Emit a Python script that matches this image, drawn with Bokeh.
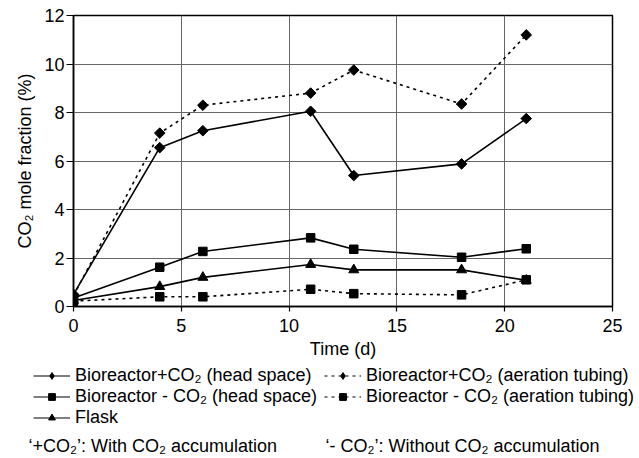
from bokeh.plotting import figure
from bokeh.layouts import column
from bokeh.models import Legend, LegendItem, Label, FixedTicker, Range1d
from bokeh.embed import file_html
from bokeh.resources import INLINE

# ---- data ----
time_d = [0, 4, 6, 11, 13, 18, 21]
hs_plus = [0.5, 6.55, 7.25, 8.05, 5.4, 5.88, 7.75]      # Bioreactor+CO2 (head space)
at_plus = [0.45, 7.15, 8.3, 8.8, 9.75, 8.35, 11.2]      # Bioreactor+CO2 (aeration tubing)
hs_minus = [0.35, 1.62, 2.27, 2.83, 2.36, 2.03, 2.38]   # Bioreactor - CO2 (head space)
at_minus = [0.22, 0.4, 0.4, 0.71, 0.53, 0.48, 1.1]     # Bioreactor - CO2 (aeration tubing)
flask = [0.25, 0.82, 1.2, 1.73, 1.51, 1.51, 1.08]      # Flask

x_ticks = [0, 5, 10, 15, 20, 25]
y_ticks = [0, 2, 4, 6, 8, 10, 12]

label_hs_plus = "Bioreactor+CO\u2082 (head space)"
label_hs_minus = "Bioreactor - CO\u2082 (head space)"
label_flask = "Flask"
label_at_plus = "Bioreactor+CO\u2082 (aeration tubing)"
label_at_minus = "Bioreactor - CO\u2082 (aeration tubing)"
note_plus = "\u2018+CO\u2082\u2019: With CO\u2082 accumulation"
note_minus = "\u2018- CO\u2082\u2019: Without CO\u2082 accumulation"

FONT = "Liberation Sans"
DOT = "3 4"
# marker styles in the chart
STYLES = {
    "hs_plus": dict(dash="solid", marker="square", angle=0.7854, size=7.5),
    "at_plus": dict(dash=DOT, marker="square", angle=0.7854, size=7.5),
    "hs_minus": dict(dash="solid", marker="square", angle=0.0, size=8.5),
    "flask": dict(dash="solid", marker="triangle", angle=0.0, size=10),
    "at_minus": dict(dash=DOT, marker="square", angle=0.0, size=8.5),
}
# marker styles for the legend samples
LEG_STYLES = {
    "hs_plus": dict(dash="solid", marker="diamond", angle=0.0, size=10),
    "at_plus": dict(dash=DOT, marker="diamond", angle=0.0, size=10),
    "hs_minus": dict(dash="solid", marker="square", angle=0.0, size=7),
    "flask": dict(dash="solid", marker="triangle", angle=0.0, size=8),
    "at_minus": dict(dash=DOT, marker="square", angle=0.0, size=7),
}

# ================= main chart =================
p = figure(width=639, height=364, output_backend="svg", toolbar_location=None,
           x_range=Range1d(0, 25), y_range=Range1d(0, 12),
           min_border_left=73, min_border_right=27, min_border_top=15,
           min_border_bottom=58)
p.frame_align = False
p.outline_line_color = "black"
p.outline_line_width = 1.5

p.xaxis.ticker = FixedTicker(ticks=x_ticks)
p.yaxis.ticker = FixedTicker(ticks=y_ticks)
for ax in (p.xaxis[0], p.yaxis[0]):
    ax.minor_tick_line_color = None
    ax.major_tick_in = 0
    ax.axis_line_color = "black"
    ax.axis_line_width = 1.5
    ax.major_tick_line_color = "black"
    ax.major_tick_line_width = 1.2
    ax.major_label_text_font = FONT
    ax.major_label_text_font_size = "18px"
    ax.major_label_text_color = "black"
    ax.axis_label_text_font = FONT
    ax.axis_label_text_font_size = "18px"
    ax.axis_label_text_font_style = "normal"
    ax.axis_label_text_color = "black"
p.xaxis.major_tick_out = 5
p.yaxis.major_tick_out = 7
p.xaxis.major_label_standoff = 7
p.yaxis.major_label_standoff = 2
p.xaxis.axis_label = "Time (d)"
p.yaxis.axis_label = "CO\u2082 mole fraction (%)"
p.xaxis.axis_label_standoff = 4
p.yaxis.axis_label_standoff = 6

p.xgrid.ticker = FixedTicker(ticks=x_ticks)
p.ygrid.ticker = FixedTicker(ticks=y_ticks)
p.grid.grid_line_color = "#666666"
p.grid.grid_line_width = 1


def series(fig, x, y, st, width=1.6):
    ln = fig.line(x, y, line_color="black", line_width=width, line_dash=st["dash"])
    sc = fig.scatter(x, y, marker=st["marker"], angle=st["angle"], size=st["size"],
                     fill_color="black", line_color="black")
    return [ln, sc]


series(p, time_d, hs_plus, STYLES["hs_plus"])
series(p, time_d, at_plus, STYLES["at_plus"])
series(p, time_d, hs_minus, STYLES["hs_minus"])
series(p, time_d, flask, STYLES["flask"])
series(p, time_d, at_minus, STYLES["at_minus"])

# ================= legend strip =================
q = figure(width=639, height=94, output_backend="svg", toolbar_location=None,
           x_range=Range1d(0, 639), y_range=Range1d(0, 94),
           min_border=0, min_border_left=0, min_border_right=0,
           min_border_top=0, min_border_bottom=0)
q.frame_align = False
q.axis.visible = False
q.grid.visible = False
q.outline_line_color = None

# legend-only proxy renderers (a single NaN point: nothing is drawn in the strip)
NAN = float("nan")
leg_r = {k: series(q, [NAN], [NAN], st, width=1.2) for k, st in LEG_STYLES.items()}


def make_legend(items, loc):
    lg = Legend(items=[LegendItem(label=t, renderers=leg_r[k]) for t, k in items],
                orientation="vertical", location=loc)
    lg.label_text_font = FONT
    lg.label_text_font_size = "18px"
    lg.label_text_color = "black"
    lg.glyph_width = 37
    lg.glyph_height = 17
    lg.label_height = 21
    lg.spacing = 0
    lg.label_standoff = 5
    lg.padding = 0
    lg.margin = 0
    lg.border_line_alpha = 0
    lg.background_fill_alpha = 0
    return lg


q.add_layout(make_legend([(label_hs_plus, "hs_plus"), (label_hs_minus, "hs_minus"),
                          (label_flask, "flask")], (33, 30)), "center")
q.add_layout(make_legend([(label_at_plus, "at_plus"), (label_at_minus, "at_minus")],
                         (324, 51)), "center")

for txt, xs in ((note_plus, 28), (note_minus, 325)):
    q.add_layout(Label(x=xs, y=13, x_units="screen", y_units="screen", text=txt,
                       text_baseline="middle",
                       text_font=FONT, text_font_size="18px", text_color="black"))

layout = column(p, q, spacing=0)
open("out.html", "w").write(file_html(layout, INLINE))
